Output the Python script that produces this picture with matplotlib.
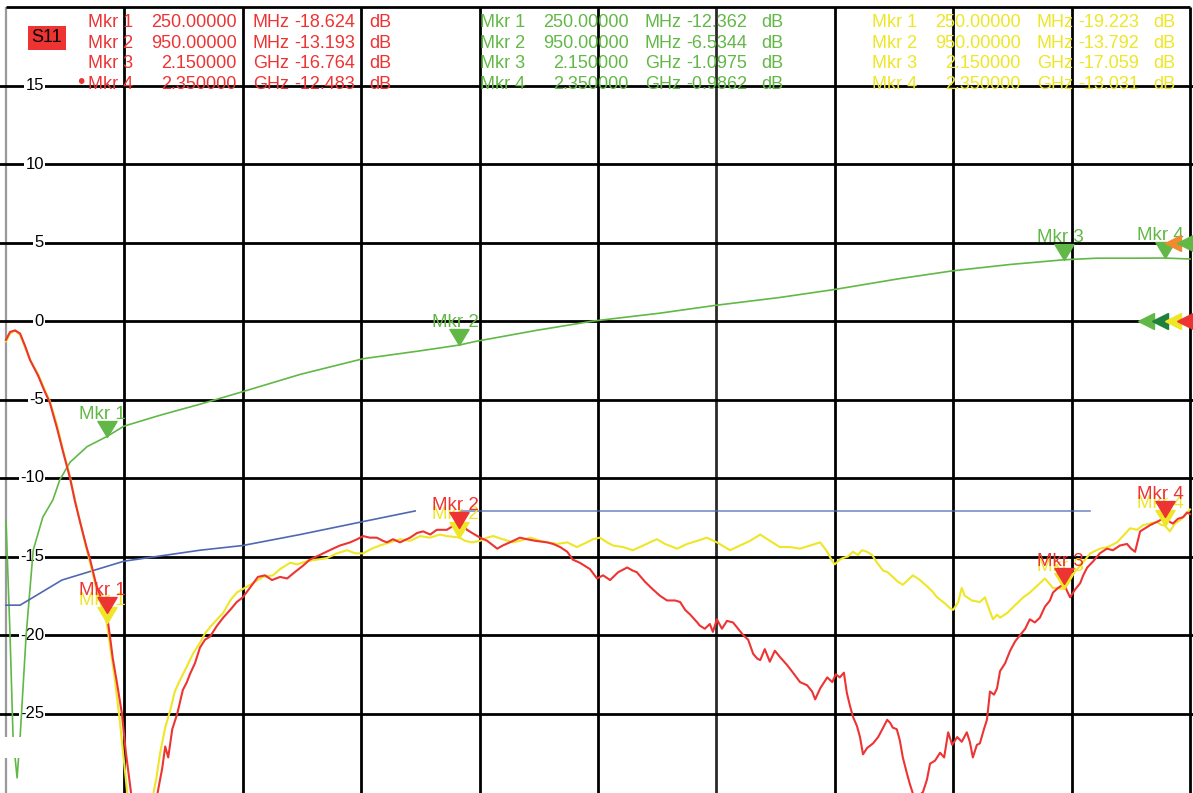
import numpy as np
import matplotlib.pyplot as plt
from matplotlib.path import Path
from matplotlib.patches import Rectangle

plt.rcParams['font.family'] = ['Liberation Sans', 'DejaVu Sans']

W, H = 1193, 793

# sweep and display scale
start_mhz, stop_mhz = 50, 2400
db_top, db_bottom = 20, -30
green_offset = 5  # green trace shown with its reference moved up 5 dB

# red trace (display dB)
red_freq = [50, 58, 68, 78, 88, 98, 114, 127, 137, 151, 163, 177, 187, 197, 209, 217, 229, 250,
            256, 262, 270, 280, 288, 296, 302, 336, 350, 360, 366, 372, 380, 390, 401, 409, 415,
            425, 435, 445, 455, 469, 481, 495, 508, 520, 534, 550, 564, 578, 594, 608, 623, 639,
            653, 673, 699, 713, 733, 747, 759, 772, 786, 798, 806, 818, 832, 852, 866, 878, 892,
            905, 925, 935, 950, 957, 965, 975, 991, 1005, 1025, 1036, 1050, 1070, 1084, 1100,
            1124, 1136, 1150, 1164, 1175, 1189, 1209, 1223, 1235, 1249, 1265, 1283, 1294, 1302,
            1318, 1334, 1348, 1362, 1378, 1388, 1398, 1408, 1422, 1427, 1437, 1447, 1453, 1461,
            1471, 1481, 1493, 1503, 1513, 1523, 1533, 1541, 1547, 1556, 1566, 1576, 1586, 1600,
            1612, 1626, 1640, 1650, 1656, 1666, 1680, 1690, 1697, 1705, 1713, 1719, 1725, 1731,
            1739, 1745, 1751, 1759, 1771, 1781, 1791, 1799, 1805, 1810, 1818, 1824, 1830, 1838,
            1844, 1850, 1860, 1870, 1878, 1884, 1894, 1904, 1912, 1920, 1928, 1938, 1947, 1957,
            1963, 1969, 1977, 1983, 1991, 1997, 2003, 2011, 2017, 2023, 2033, 2043, 2053, 2063,
            2073, 2082, 2092, 2102, 2112, 2122, 2128, 2138, 2150, 2156, 2162, 2172, 2182, 2188,
            2196, 2208, 2221, 2235, 2247, 2261, 2275, 2283, 2291, 2301, 2311, 2321, 2334, 2346,
            2350, 2360, 2366, 2376, 2386, 2394, 2400]
red_db = [-1.2, -0.7, -0.6, -0.8, -1.6, -2.5, -3.5, -4.5, -5.2, -6.8, -8.3, -10.0, -11.5, -12.8,
          -14.3, -15.2, -16.8, -18.62, -20.0, -21.5, -23.0, -25.0, -27.5, -29.5, -31.0, -33.0,
          -30.2, -28.5, -27.1, -27.8, -26.0, -25.0, -23.5, -23.0, -22.5, -21.8, -20.8, -20.3,
          -20.1, -19.4, -18.9, -18.4, -17.9, -17.6, -17.0, -16.3, -16.2, -16.5, -16.3, -16.4,
          -16.0, -15.6, -15.2, -14.9, -14.5, -14.3, -14.1, -13.9, -13.7, -13.8, -13.8, -14.0,
          -14.1, -13.9, -14.1, -13.8, -13.5, -13.4, -13.6, -13.3, -13.3, -13.1, -13.19, -13.0,
          -13.3, -13.5, -13.8, -14.0, -14.5, -14.3, -14.1, -13.8, -13.9, -14.0, -14.1, -14.2,
          -14.4, -14.7, -15.2, -15.4, -15.8, -16.4, -16.2, -16.5, -16.0, -15.7, -15.9, -16.0,
          -16.6, -17.1, -17.5, -17.8, -17.8, -17.9, -18.4, -18.7, -19.2, -19.4, -19.6, -19.3,
          -19.8, -19.0, -19.6, -19.1, -19.2, -19.6, -20.0, -20.3, -21.2, -21.5, -21.6, -20.9,
          -21.7, -21.0, -21.4, -21.9, -22.4, -23.0, -23.2, -23.6, -24.1, -23.4, -22.7, -23.0,
          -22.5, -22.7, -22.4, -23.7, -24.5, -25.2, -25.8, -26.5, -27.6, -27.2, -26.9, -26.5,
          -25.9, -25.4, -25.6, -25.9, -26.0, -26.7, -27.8, -28.8, -29.5, -30.1, -30.3, -30.0,
          -29.2, -28.2, -28.0, -27.5, -27.8, -26.2, -27.0, -26.5, -26.8, -26.2, -26.8, -27.8,
          -27.0, -26.9, -26.0, -25.4, -23.6, -23.8, -23.4, -22.3, -21.8, -21.0, -20.4, -20.0,
          -19.6, -19.0, -19.2, -18.9, -18.2, -17.8, -17.3, -17.0, -16.76, -17.2, -17.6, -17.1,
          -16.7, -16.2, -15.7, -15.3, -14.8, -14.5, -14.6, -14.3, -14.2, -14.5, -14.7, -13.4,
          -13.2, -13.0, -12.8, -12.6, -12.48, -12.8, -12.9, -12.6, -12.5, -12.2, -12.3]

# yellow trace (display dB)
yellow_freq = [50, 58, 68, 78, 88, 98, 114, 127, 137, 151, 163, 177, 187, 197, 209, 217, 229, 250,
               256, 266, 276, 284, 292, 298, 336, 340, 348, 356, 366, 376, 385, 395, 409, 421, 435,
               445, 455, 469, 481, 495, 508, 524, 540, 560, 580, 594, 614, 628, 647, 667, 687, 707,
               727, 743, 759, 776, 792, 812, 832, 852, 872, 892, 911, 925, 950, 961, 975, 991,
               1005, 1017, 1036, 1056, 1070, 1090, 1110, 1124, 1144, 1164, 1183, 1203, 1215, 1229,
               1243, 1255, 1275, 1294, 1308, 1328, 1342, 1358, 1382, 1402, 1422, 1441, 1461, 1487,
               1507, 1527, 1547, 1566, 1586, 1606, 1626, 1646, 1666, 1680, 1690, 1695, 1705, 1711,
               1721, 1731, 1741, 1749, 1759, 1769, 1779, 1791, 1800, 1810, 1820, 1830, 1840, 1850,
               1864, 1878, 1888, 1898, 1914, 1924, 1930, 1940, 1947, 1953, 1967, 1983, 1993, 2003,
               2009, 2017, 2023, 2037, 2053, 2069, 2082, 2092, 2102, 2112, 2128, 2150, 2158, 2168,
               2182, 2202, 2221, 2237, 2255, 2267, 2281, 2295, 2307, 2321, 2334, 2344, 2350, 2360,
               2370, 2380, 2390, 2400]
yellow_db = [-1.3, -0.8, -0.6, -0.9, -1.7, -2.5, -3.4, -4.4, -5.1, -6.6, -8.2, -9.9, -11.4, -12.8,
             -14.4, -15.4, -17.0, -19.22, -20.6, -22.8, -25.5, -28.0, -30.5, -32.0, -33.0, -30.5,
             -29.2, -27.5, -25.9, -24.8, -23.6, -22.9, -22.0, -21.2, -20.5, -19.9, -19.5, -19.0,
             -18.6, -17.8, -17.3, -17.0, -16.7, -16.3, -16.2, -15.8, -15.4, -15.5, -15.3, -15.2,
             -15.1, -14.8, -14.6, -14.8, -14.8, -14.5, -14.3, -14.1, -13.9, -14.0, -13.7, -13.8,
             -13.6, -13.7, -13.79, -14.0, -14.1, -14.0, -13.8, -13.7, -13.9, -14.1, -14.0, -13.8,
             -14.0, -14.1, -14.2, -14.1, -14.4, -14.1, -13.9, -13.8, -14.1, -14.3, -14.4, -14.6,
             -14.4, -14.1, -13.9, -14.2, -14.5, -14.2, -14.0, -13.8, -14.1, -14.6, -14.3, -14.0,
             -13.6, -14.0, -14.4, -14.4, -14.5, -14.3, -14.1, -14.7, -15.3, -15.5, -15.2, -15.1,
             -15.0, -14.7, -14.9, -14.6, -14.7, -14.9, -15.4, -15.9, -16.0, -16.3, -16.6, -16.8,
             -16.5, -16.2, -16.5, -16.9, -17.2, -17.6, -18.0, -18.3, -18.4, -17.9, -17.0, -17.5,
             -17.8, -17.9, -17.6, -18.5, -19.0, -18.7, -18.9, -18.6, -18.1, -17.6, -17.3, -17.0,
             -16.7, -16.4, -17.0, -17.06, -16.7, -16.1, -15.6, -14.8, -14.5, -14.4, -14.1, -13.7,
             -13.2, -13.3, -13.0, -12.9, -12.8, -13.0, -13.03, -13.4, -12.9, -12.7, -12.4, -12.0]

# green trace (real dB, before the display offset)
green_freq = [50, 58, 64, 72, 78, 90, 104, 123, 143, 157, 177, 211, 250, 284, 356, 435, 520, 634,
              759, 872, 950, 982, 1102, 1216, 1348, 1459, 1586, 1693, 1824, 1930, 2043, 2150, 2215,
              2286, 2350, 2400]
green_db = [-17.7, -25.0, -31.5, -34.1, -31.5, -25.0, -19.6, -17.5, -16.4, -15.1, -14.0, -13.0,
            -12.36, -11.7, -11.0, -10.3, -9.5, -8.4, -7.4, -6.9, -6.53, -6.3, -5.6, -5.0, -4.5,
            -4.0, -3.5, -3.0, -2.3, -1.8, -1.4, -1.1, -1.0, -1.0, -0.99, -1.05]

# blue limit line, two segments
limit1_freq = [50, 78, 161, 284, 435, 520, 634, 755, 862]
limit1_db = [-18.1, -18.1, -16.5, -15.3, -14.6, -14.3, -13.6, -12.8, -12.1]
limit2_freq = [951, 2202]
limit2_db = [-12.1, -12.1]

# markers
marker_freq = [250, 950, 2150, 2350]
red_mkr = [-18.624, -13.193, -16.764, -12.483]
green_mkr = [-12.362, -6.5344, -1.0975, -0.9862]
yellow_mkr = [-19.223, -13.792, -17.059, -13.031]

y_ticks = [15, 10, 5, 0, -5, -10, -15, -20, -25]

RED = '#EE3333'
GREEN = '#62B846'
YELLOW = '#EEE626'
BLUE = '#5068B4'
DKGREEN = '#1F7F3C'
ORANGE = '#F08A2E'


def fpx(x, y):
    return x / W, 1 - y / H


fig = plt.figure(figsize=(W / 100, H / 100), dpi=100)
ax = fig.add_axes([0, 0, 1, 1])
mhz_px = (stop_mhz - start_mhz) / 1184
db_px = 5 / 78.5
ax.set_xlim(start_mhz - 6 * mhz_px, stop_mhz + 3 * mhz_px)
ax.set_ylim(db_bottom - 1 * db_px, db_top + 7 * db_px)
ax.axis('off')

# graticule
div = (stop_mhz - start_mhz) / 10
for k in range(11):
    f = start_mhz + k * div
    if k == 0:
        ax.vlines(f, db_bottom - 1, db_top, color='#9a9a9a', lw=1.6, zorder=1)
    else:
        col = '#2a2a2a' if k == 6 else 'black'
        ax.vlines(f, db_bottom - 1, db_top, color=col, lw=2.0, zorder=1)
for d in y_ticks:
    ax.axhline(d, color='black', lw=2.0, zorder=1)
ax.hlines(db_top, start_mhz, stop_mhz, color='black', lw=2.0, zorder=1)

for d in y_ticks:
    ax.text(44 / W, d, str(d), transform=ax.get_yaxis_transform(), ha='right', va='center',
            fontsize=12, color='black', zorder=2,
            bbox=dict(facecolor='white', edgecolor='none', pad=1.0))

# traces
ax.plot(green_freq, np.array(green_db) + green_offset, color=GREEN, lw=1.2, zorder=3)
ax.plot(limit1_freq, limit1_db, color=BLUE, lw=1.2, zorder=3)
ax.plot(limit2_freq, limit2_db, color=BLUE, lw=1.2, zorder=3, alpha=0.75)
ax.plot(yellow_freq, yellow_db, color=YELLOW, lw=1.5, zorder=4)
ax.plot(red_freq, red_db, color=RED, lw=1.5, zorder=5)

# marker triangles with tip on the value
tri = Path([(-0.6, 1.0), (0.6, 1.0), (0, 0), (-0.6, 1.0)],
           [Path.MOVETO, Path.LINETO, Path.LINETO, Path.CLOSEPOLY])


def draw_markers(vals, color, z):
    ax.plot(marker_freq, vals, ls='none', marker=tri, ms=23, color=color, zorder=z)
    for i, (f, v) in enumerate(zip(marker_freq, vals)):
        ax.annotate(f"Mkr {i + 1}", xy=(f, v), xytext=(-3, 13), textcoords='offset points',
                    ha='center', va='baseline', fontsize=13.5, color=color, zorder=z)


draw_markers(np.array(green_mkr) + green_offset, GREEN, 6)
draw_markers(yellow_mkr, YELLOW, 7)
draw_markers(red_mkr, RED, 8)

# reference position arrows on the right edge
yt = ax.get_yaxis_transform()
for xp, col in zip([1146, 1160, 1173, 1185], [GREEN, DKGREEN, YELLOW, RED]):
    ax.plot(xp / W, 0, marker='<', ms=11, color=col, transform=yt, clip_on=False, zorder=9)
for xp, col in zip([1173, 1185], [ORANGE, GREEN]):
    ax.plot(xp / W, green_offset, marker='<', ms=11, color=col, transform=yt, clip_on=False,
            zorder=9)

# header marker readouts
row_base = [27, 48, 68.5, 89]
blocks = [(88, RED, red_mkr), (480, GREEN, green_mkr), (872, YELLOW, yellow_mkr)]
for x0, col, vals in blocks:
    for i, f in enumerate(marker_freq):
        yb = row_base[i]
        if f < 1000:
            fs, unit = f"{f:.5f}", "MHz"
        else:
            fs, unit = f"{f / 1000:.6f}", "GHz"
        kw = dict(fontsize=13, color=col, va='baseline', zorder=10)
        fig.text(*fpx(x0, yb), f"Mkr {i + 1}", ha='left', **kw)
        fig.text(*fpx(x0 + 149, yb), fs, ha='right', **kw)
        fig.text(*fpx(x0 + 165, yb), unit, ha='left', **kw)
        fig.text(*fpx(x0 + 267, yb), f"{vals[i]:.5g}", ha='right', **kw)
        fig.text(*fpx(x0 + 281, yb), "dB", ha='left', **kw)

fig.text(*fpx(81, 82), "\u2022", ha='center', va='center', fontsize=15, color=RED)
fig.text(*fpx(47, 38), "S11", ha='center', va='center', fontsize=13, color='black',
         bbox=dict(boxstyle='square,pad=0.2', facecolor=RED, edgecolor='none'))

# blank patch at the lower left
fig.add_artist(Rectangle(fpx(0, 758), 32 / W, 21 / H, transform=fig.transFigure,
                         facecolor='white', edgecolor='none', zorder=20))

fig.savefig('out.png', dpi=100, facecolor='white')
